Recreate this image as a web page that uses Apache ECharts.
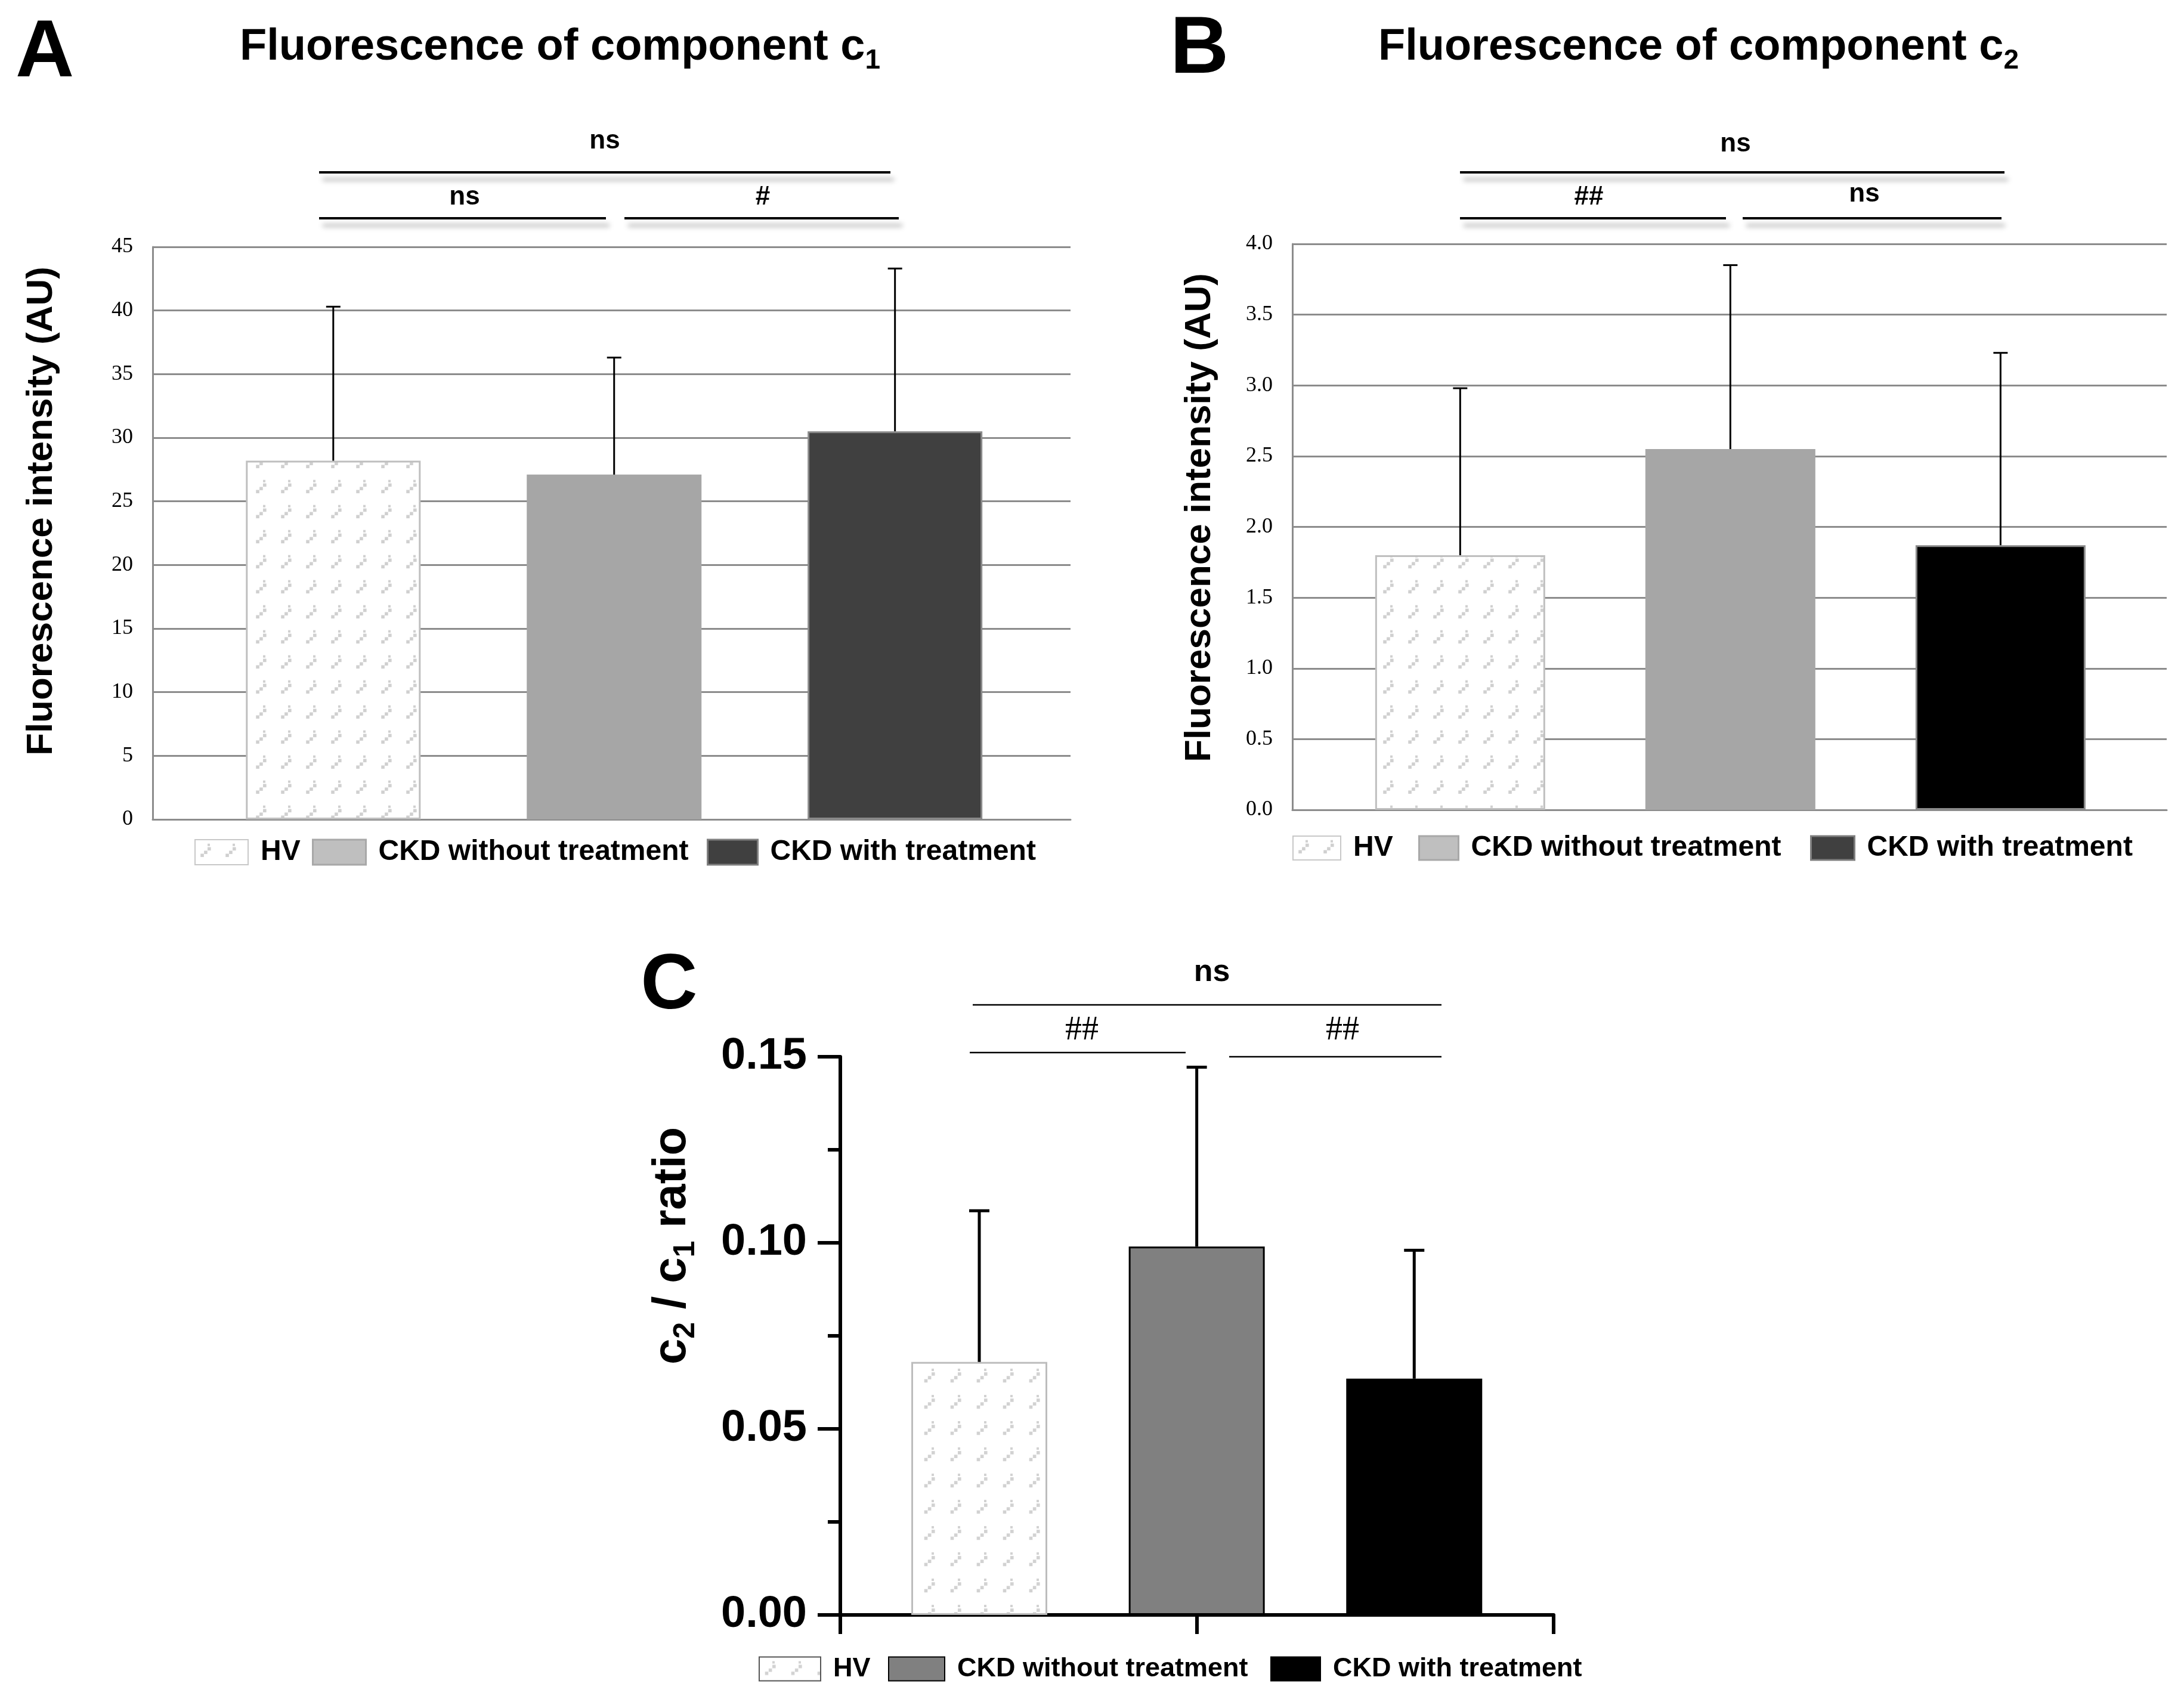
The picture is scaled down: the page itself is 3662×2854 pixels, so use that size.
<!DOCTYPE html>
<html><head><meta charset="utf-8">
<script src="https://cdn.jsdelivr.net/npm/echarts@6/dist/echarts.min.js"></script>
<style>html,body{margin:0;padding:0;background:#fff}#c{width:3662px;height:2854px}</style>
</head><body><div id="c"></div>
<script>
// ---------- data ----------
const categories = ['HV', 'CKD without treatment', 'CKD with treatment'];
const c1Mean = [28.2, 27.1, 30.5];
const c1Err  = [12.1, 9.2, 12.8];
const c2Mean = [1.80, 2.55, 1.87];
const c2Err  = [1.18, 1.30, 1.36];
const ratioMean = [0.068, 0.099, 0.0635];
const ratioErr  = [0.0406, 0.0482, 0.0345];
const titleA = 'Fluorescence of component c';
const titleB = 'Fluorescence of component c';
const yNameAB = 'Fluorescence intensity (AU)';
const sigA = ['ns', 'ns', '#'];
const sigB = ['ns', '##', 'ns'];
const sigC = ['ns', '##', '##'];

// ---------- styling helpers ----------
const SANS = "'Liberation Sans', Arial, sans-serif";
const SERIF = "'Liberation Serif', 'Times New Roman', serif";

function makePattern(step, color) {
  const cv = document.createElement('canvas');
  cv.width = step; cv.height = step;
  const ctx = cv.getContext('2d');
  ctx.fillStyle = '#ffffff'; ctx.fillRect(0, 0, step, step);
  ctx.fillStyle = color;
  const u = Math.round(step / 10);
  // small stair-step diagonal mark
  ctx.fillRect(step * 0.22, step * 0.56, u * 1.4, u * 1.4);
  ctx.fillRect(step * 0.36, step * 0.44, u * 1.4, u * 1.4);
  ctx.fillRect(step * 0.50, step * 0.30, u * 1.4, u * 1.4);
  ctx.fillRect(step * 0.50, step * 0.16, u * 1.0, u * 1.0);
  return { image: cv, repeat: 'repeat' };
}
const patAB = makePattern(42, '#d0d0d0');
const patC = makePattern(44, '#d2d2d2');

const chart = echarts.init(document.getElementById('c'), null, { renderer: 'canvas' });

function bars(p, means, fills, borders, bws, bw) {
  return categories.map((name, i) => ({
    type: 'bar', name, xAxisIndex: p, yAxisIndex: p, barWidth: bw, barGap: '-100%',
    data: [[i + 1, means[i]]], silent: true, z: 2,
    itemStyle: { color: fills[i], borderColor: borders[i], borderWidth: bws[i] }
  }));
}
function errs(p, means, errors, lw, cap) {
  return {
    type: 'custom', xAxisIndex: p, yAxisIndex: p, silent: true, z: 5,
    encode: { x: 0, y: [1, 2] },
    data: means.map((m, i) => [i + 1, m, m + errors[i]]),
    renderItem: (params, api) => {
      const a = api.coord([api.value(0), api.value(1)]);
      const b = api.coord([api.value(0), api.value(2)]);
      return { type: 'group', children: [
        { type: 'line', shape: { x1: a[0], y1: a[1], x2: b[0], y2: b[1] }, style: { stroke: '#000', lineWidth: lw } },
        { type: 'line', shape: { x1: b[0] - cap / 2, y1: b[1], x2: b[0] + cap / 2, y2: b[1] }, style: { stroke: '#000', lineWidth: lw } }
      ]};
    }
  };
}
function leg(name, left, top, color, border, bw, iw, ih, size) {
  return {
    data: [{ name, itemStyle: { color, borderColor: border, borderWidth: bw } }],
    left, top, padding: 0, icon: 'rect', itemWidth: iw, itemHeight: ih, selectedMode: false,
    textStyle: { fontFamily: SANS, fontSize: size, fontWeight: 'bold', color: '#000', padding: [0, 0, 0, 16] }
  };
}
function txt(x, y, text, size, family, weight, extra) {
  return Object.assign({ type: 'text', x, y, silent: true, style: {
    text, fontSize: size, fontFamily: family, fontWeight: weight, fill: '#000',
    textAlign: 'center', textVerticalAlign: 'middle' } }, extra || {});
}
function sline(x1, y1, x2, y2, lw, shadow) {
  const st = { stroke: '#000', lineWidth: lw };
  if (shadow) Object.assign(st, { shadowBlur: 8, shadowColor: 'rgba(0,0,0,0.35)', shadowOffsetX: 6, shadowOffsetY: 12 });
  return { type: 'line', silent: true, shape: { x1, y1, x2, y2 }, style: st };
}

const gridGray = '#8c8c8c';
const yAB = (max, interval, digits) => ({
  type: 'value', min: 0, max, interval,
  axisLine: { show: true, lineStyle: { color: gridGray, width: 3 } },
  axisTick: { show: false },
  splitLine: { show: true, lineStyle: { color: gridGray, width: 3 } },
  axisLabel: { fontFamily: SERIF, fontSize: 36, color: '#000', margin: 33,
    formatter: v => v.toFixed(digits) }
});
const xAB = (gi, min, max) => ({
  gridIndex: gi, type: 'value', min, max,
  axisLine: { show: true, onZero: false, lineStyle: { color: gridGray, width: 3 } },
  axisTick: { show: false }, axisLabel: { show: false }, splitLine: { show: false }
});

const option = {
  animation: false,
  backgroundColor: '#ffffff',
  grid: [
    { left: 256, top: 414, width: 1539, height: 960 },
    { left: 2167, top: 409, width: 1466, height: 949 },
    { left: 1409, top: 1772, width: 1196, height: 936 }
  ],
  xAxis: [
    xAB(0, 0.357, 3.625),
    xAB(1, 0.379, 3.615),
    { gridIndex: 2, type: 'value', min: 0.361, max: 3.641,
      axisLine: { show: true, onZero: false, lineStyle: { color: '#000', width: 6 } },
      axisTick: { show: true, customValues: [0.361, 2, 3.641], length: 32, lineStyle: { color: '#000', width: 6 } },
      axisLabel: { show: false }, splitLine: { show: false } }
  ],
  yAxis: [
    Object.assign({ gridIndex: 0 }, yAB(45, 5, 0)),
    Object.assign({ gridIndex: 1 }, yAB(4, 0.5, 1)),
    { gridIndex: 2, type: 'value', min: 0, max: 0.15, interval: 0.05,
      axisLine: { show: true, lineStyle: { color: '#000', width: 6 } },
      axisTick: { show: true, length: 38, lineStyle: { color: '#000', width: 6 } },
      minorTick: { show: true, splitNumber: 2, length: 21, lineStyle: { color: '#000', width: 6 } },
      splitLine: { show: false },
      axisLabel: { fontFamily: SANS, fontWeight: 'bold', fontSize: 74, color: '#000', margin: 56,
        formatter: v => v.toFixed(2) } }
  ],
  legend: [
    leg(categories[0], 326, 1405, patAB, '#c8c8c8', 2, 89, 42, 48),
    leg(categories[1], 523, 1405, '#bfbfbf', '#a8a8a8', 3, 89, 42, 48),
    leg(categories[2], 1185, 1405, '#404040', '#7f7f7f', 3, 84, 42, 48),
    leg(categories[0], 2167, 1398, patAB, '#c8c8c8', 2, 80, 40, 48),
    leg(categories[1], 2378, 1398, '#bfbfbf', '#a8a8a8', 3, 66, 40, 48),
    leg(categories[2], 3035, 1398, '#404040', '#7f7f7f', 3, 73, 40, 48),
    leg(categories[0], 1272, 2776, patC, '#555555', 2, 103, 40, 45),
    leg(categories[1], 1489, 2776, '#808080', '#000000', 2, 94, 40, 45),
    leg(categories[2], 2130, 2776, '#000000', '#000000', 2, 83, 40, 45)
  ],
  series: [
    ...bars(0, c1Mean, [patAB, '#a6a6a6', '#404040'], ['#bfbfbf', '#a6a6a6', '#8a8a8a'], [3, 0, 3], 293),
    errs(0, c1Mean, c1Err, 3, 24),
    ...bars(1, c2Mean, [patAB, '#a6a6a6', '#000000'], ['#bfbfbf', '#a6a6a6', '#8a8a8a'], [3, 0, 3], 285),
    errs(1, c2Mean, c2Err, 3, 24),
    ...bars(2, ratioMean, [patC, '#808080', '#000000'], ['#bdbdbd', '#000000', '#000000'], [3, 3, 3], 228),
    errs(2, ratioMean, ratioErr, 5, 34)
  ],
  graphic: { elements: [
    // panel letters
    txt(75, 90, 'A', 136, SANS, 'bold'),
    txt(2011, 84, 'B', 136, SANS, 'bold'),
    txt(1122, 1655, 'C', 132, SANS, 'bold'),
    // titles with subscripts
    { type: 'text', x: 939, y: 80, silent: true, style: { text: '{m|' + titleA + '}{s|1}', textAlign: 'center', textVerticalAlign: 'middle',
      rich: { m: { fontSize: 74, fontFamily: SANS, fontWeight: 'bold', lineHeight: 90 },
              s: { fontSize: 46, fontFamily: SANS, fontWeight: 'bold', lineHeight: 46, verticalAlign: 'bottom' } } } },
    { type: 'text', x: 2848, y: 80, silent: true, style: { text: '{m|' + titleB + '}{s|2}', textAlign: 'center', textVerticalAlign: 'middle',
      rich: { m: { fontSize: 74, fontFamily: SANS, fontWeight: 'bold', lineHeight: 90 },
              s: { fontSize: 46, fontFamily: SANS, fontWeight: 'bold', lineHeight: 46, verticalAlign: 'bottom' } } } },
    // y axis names
    txt(70, 857, yNameAB, 62, SANS, 'bold', { rotation: Math.PI / 2 }),
    txt(2012, 868, yNameAB, 62, SANS, 'bold', { rotation: Math.PI / 2 }),
    { type: 'text', x: 1127, y: 2089, rotation: Math.PI / 2, silent: true, style: {
      text: '{m|c}{s|2}{m| / c}{s|1}{m| ratio}', textAlign: 'center', textVerticalAlign: 'middle',
      rich: { m: { fontSize: 78, fontFamily: SANS, fontWeight: 'bold', lineHeight: 96 },
              s: { fontSize: 50, fontFamily: SANS, fontWeight: 'bold', lineHeight: 50, verticalAlign: 'bottom' } } } },
    // significance panel A
    txt(1014, 237, sigA[0], 44, SANS, 'bold'),
    sline(535, 289, 1493, 289, 4, true),
    txt(779, 331, sigA[1], 44, SANS, 'bold'),
    txt(1279, 331, sigA[2], 44, SANS, 'bold'),
    sline(535, 366, 1016, 366, 4, true),
    sline(1047, 366, 1507, 366, 4, true),
    // significance panel B
    txt(2910, 242, sigB[0], 44, SANS, 'bold'),
    sline(2448, 289, 3361, 289, 4, true),
    txt(2664, 331, sigB[1], 44, SANS, 'bold'),
    txt(3126, 326, sigB[2], 44, SANS, 'bold'),
    sline(2448, 366, 2894, 366, 4, true),
    sline(2922, 366, 3356, 366, 4, true),
    // significance panel C
    txt(2032, 1631, sigC[0], 52, SANS, 'bold'),
    sline(1631, 1685, 2417, 1685, 2.5, false),
    txt(1814, 1728, sigC[1], 56, SERIF, 'normal'),
    txt(2251, 1728, sigC[2], 56, SERIF, 'normal'),
    sline(1626, 1765, 1988, 1765, 2.5, false),
    sline(2061, 1772, 2417, 1772, 2.5, false)
  ] }
};
chart.setOption(option);
</script>
</body></html>
